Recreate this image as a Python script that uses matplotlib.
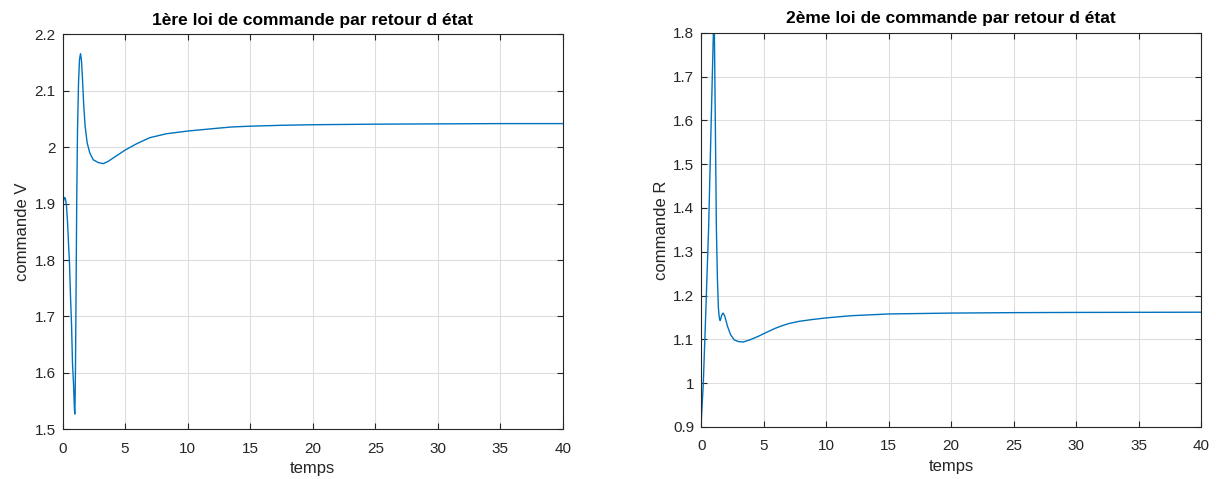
import matplotlib
matplotlib.use("Agg")
import matplotlib.pyplot as plt
from matplotlib.ticker import FormatStrFormatter, MultipleLocator

plt.rcParams['font.family'] = ['Liberation Sans', 'DejaVu Sans']

# Left: commande V
t_v = [0.0, 0.05, 0.12, 0.19, 0.26, 0.32, 0.40, 0.48, 0.56, 0.64, 0.72, 0.80, 0.88, 0.93, 0.96, 0.98,
       1.01, 1.04, 1.09, 1.14, 1.20, 1.28, 1.36, 1.44, 1.52, 1.60, 1.70, 1.81, 1.97, 2.18, 2.45,
       2.85, 3.25, 3.65, 4.18, 4.6, 5.0, 5.9, 6.97, 8.3, 9.37, 10.1, 12.0, 13.5, 15.0, 17.5, 20.0,
       25.0, 30.0, 35.0, 40.0]
v_v = [1.884, 1.900, 1.909, 1.911, 1.906, 1.895, 1.868, 1.830, 1.794, 1.735, 1.687, 1.616, 1.581, 1.550, 1.533, 1.527,
       1.557, 1.616, 1.764, 1.913, 2.031, 2.114, 2.156, 2.166, 2.153, 2.120, 2.073, 2.037, 2.008, 1.990, 1.978,
       1.973, 1.971, 1.975, 1.983, 1.989, 1.995, 2.006, 2.017, 2.024, 2.027, 2.029, 2.033, 2.036, 2.0374, 2.039, 2.040,
       2.041, 2.0415, 2.042, 2.042]

# Right: commande R
t_r = [0.0, 0.16, 0.32, 0.48, 0.59, 0.78, 0.97, 1.01, 1.05, 1.13, 1.21, 1.29, 1.37, 1.44, 1.51, 1.56, 1.61,
       1.68, 1.75, 1.88, 2.10, 2.34, 2.63, 2.96, 3.36, 3.9, 4.57, 5.0, 5.9, 6.45, 7.0, 7.8, 8.8,
       10.0, 12.0, 15.0, 20.0, 25.0, 30.0, 40.0]
v_r = [0.913, 0.998, 1.127, 1.264, 1.355, 1.580, 1.800, 1.860, 1.800, 1.580, 1.355, 1.241, 1.172, 1.150, 1.143, 1.147, 1.153,
       1.158, 1.160, 1.153, 1.130, 1.111, 1.099, 1.095, 1.094, 1.099, 1.107, 1.113, 1.125, 1.131, 1.136, 1.141, 1.145,
       1.149, 1.154, 1.158, 1.160, 1.161, 1.1615, 1.162]

fig = plt.figure(figsize=(12.16, 4.79), dpi=100)
ax1 = fig.add_axes([0.0514, 0.1038, 0.4116, 0.8242])
ax2 = fig.add_axes([0.5767, 0.1086, 0.4110, 0.8231])

color = '#0072BD'
specs = [
    (ax1, t_v, v_v, (1.5, 2.2), '1ère loi de commande par retour d état', 'commande V'),
    (ax2, t_r, v_r, (0.9, 1.8), '2ème loi de commande par retour d état', 'commande R'),
]
for ax, t, v, yl, title, ylabel in specs:
    ax.plot(t, v, color=color, linewidth=1.0)
    ax.set_xlim(0, 40)
    ax.set_ylim(*yl)
    ax.xaxis.set_major_locator(MultipleLocator(5))
    ax.yaxis.set_major_locator(MultipleLocator(0.1))
    ax.yaxis.set_major_formatter(FormatStrFormatter('%g'))
    ax.grid(True, color='#dedede', linewidth=0.8)
    ax.set_axisbelow(True)
    ax.tick_params(direction='in', top=True, right=True, labelsize=11,
                   colors='#262626', length=4, width=0.8)
    ax.tick_params(axis='x', pad=9)
    ax.tick_params(axis='y', pad=5)
    for s in ax.spines.values():
        s.set_color('#262626')
        s.set_linewidth(0.8)
    ax.set_title(title, fontsize=12.5, fontweight='bold', pad=7)
    ax.set_xlabel('temps', fontsize=12, color='#262626', labelpad=4)
    ax.set_ylabel(ylabel, fontsize=12, color='#262626', labelpad=3)

fig.savefig('out.png', dpi=100)
